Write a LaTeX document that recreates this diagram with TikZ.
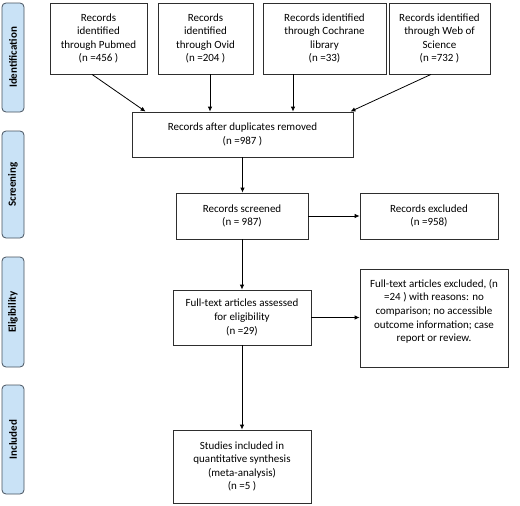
\documentclass[tikz,border=0pt]{standalone}
\usepackage{fontspec}
\setmainfont{Carlito}
\usetikzlibrary{arrows.meta}
\definecolor{phasefill}{HTML}{C9E2F6}
\definecolor{phaseline}{HTML}{46525E}
\definecolor{boxline}{HTML}{2E2E2E}
\begin{document}
\begin{tikzpicture}[x=1pt,y=-1pt,
  box/.style={draw=boxline,line width=0.8pt,fill=white,align=center,inner sep=2pt,
    font=\fontsize{11}{13.6}\selectfont},
  phase/.style={draw=phaseline,line width=0.8pt,fill=phasefill,rounded corners=4pt,
    minimum width=22pt,rotate=90,inner sep=0pt,font=\fontsize{11}{13}\selectfont\bfseries},
  arr/.style={-{Latex[length=5pt,width=4.5pt]},line width=0.8pt,draw=black}]
\useasboundingbox (0,0) rectangle (520,506);
% phase labels
\node[phase,minimum height=22pt,minimum width=109pt] (pid) at (13,57.5) {Identification};
\node[phase,minimum height=22pt,minimum width=107pt] (psc) at (13,184.5) {Screening};
\node[phase,minimum height=22pt,minimum width=110pt] (pel) at (13,312) {Eligibility};
\node[phase,minimum height=22pt,minimum width=109pt] (pin) at (13,439.5) {Included};
% boxes
\node[box,minimum width=97pt,minimum height=71pt] (pub) at (98.5,38.5) {Records\\identified\\through Pubmed\\(n =456 )};
\node[box,minimum width=95pt,minimum height=71pt] (ovid) at (205.5,38.5) {Records\\identified\\through Ovid\\(n =204 )};
\node[box,minimum width=123pt,minimum height=71pt] (coch) at (324.5,38.5) {Records identified\\through Cochrane\\library\\(n =33)};
\node[box,minimum width=101pt,minimum height=71pt] (wos) at (439.5,38.5) {Records identified\\through Web of\\Science\\(n =732 )};
\node[box,minimum width=221pt,minimum height=45pt] (dup) at (242.5,134.5) {Records after duplicates removed\\(n =987 )};
\node[box,minimum width=132pt,minimum height=46pt] (scr) at (242,216) {Records screened\\(n = 987)};
\node[box,minimum width=138pt,minimum height=46pt] (exc) at (429,216) {Records excluded\\(n =958)};
\node[box,minimum width=138pt,minimum height=55pt] (full) at (242,317.5) {Full-text articles assessed\\for eligibility\\(n =29)};
\node[box,minimum width=148pt,minimum height=98pt,text depth=15pt] (exc2) at (434,318) {Full-text articles excluded, (n\\=24 ) with reasons: no\\comparison; no accessible\\outcome information; case\\report or review.};
\node[box,minimum width=138pt,minimum height=73pt] (inc) at (242,466.5) {Studies included in\\quantitative synthesis\\(meta-analysis)\\(n =5 )};
% arrows
\draw[arr] ([xshift=-6.5pt]pub.south) -- ([xshift=14pt]dup.north west);
\draw[arr] ([xshift=4.5pt]ovid.south) -- ([xshift=4.5pt]ovid.south |- dup.north);
\draw[arr] ([xshift=-31.5pt]coch.south) -- ([xshift=-31.5pt]coch.south |- dup.north);
\draw[arr] ([xshift=-8.5pt]wos.south) -- ([xshift=-3pt]dup.north east);
\draw[arr] (dup.south) -- (dup.south |- scr.north);
\draw[arr] (scr.east) -- (scr.east -| exc.west);
\draw[arr] (scr.south) -- (full.north);
\draw[arr] (full.east) -- (full.east -| exc2.west);
\draw[arr] (full.south) -- (inc.north);
\end{tikzpicture}
\end{document}
